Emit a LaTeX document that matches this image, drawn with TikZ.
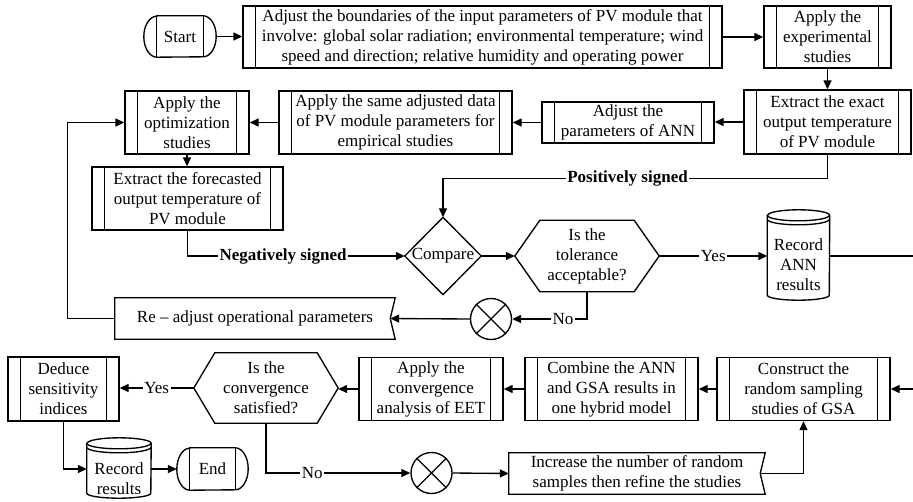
\documentclass[tikz,border=0pt]{standalone}
\usepackage{fontspec}
\setmainfont{Liberation Serif}
\usetikzlibrary{arrows.meta}
\begin{document}
\begin{tikzpicture}[x=1pt,y=1pt,
  lw/.style={line width=1.35pt},
  base/.style={inner sep=0pt, align=center, font=\fontsize{17}{20}\selectfont},
  sz/.style 2 args={minimum width=#1pt, minimum height=#2pt},
  proc/.style={base, draw, lw, path picture={
    \draw[line width=1.35pt] ([xshift=12.5pt]path picture bounding box.north west) -- ([xshift=12.5pt]path picture bounding box.south west)
      ([xshift=-12.5pt]path picture bounding box.north east) -- ([xshift=-12.5pt]path picture bounding box.south east);}},
  arr/.style={lw, -{Triangle[length=9pt,width=8pt]}},
  lbl/.style={font=\fontsize{17}{20}\selectfont, fill=white, inner sep=1.5pt},
  blbl/.style={lbl, font=\fontsize{17}{20}\selectfont\bfseries},
  xcirc/.style={draw, lw, circle, minimum size=41pt, inner sep=0pt}
]
\useasboundingbox (0,0) rectangle (913,-501);

% ---- top row ----
\node[base, sz={72}{41}] (start) at (180,-36.5) {Start};
\draw[lw] ([xshift=13pt]start.north west) -- ([xshift=-13pt]start.north east) arc[start angle=90,end angle=-90,x radius=13pt,y radius=20.5pt] -- ([xshift=13pt]start.south west) arc[start angle=270,end angle=90,x radius=13pt,y radius=20.5pt] -- cycle;
\draw[lw] ([xshift=13pt]start.north west) -- ([xshift=13pt]start.south west) ([xshift=-13pt]start.north east) -- ([xshift=-13pt]start.south east);

\node[proc, sz={479}{62}] (b1) at (482.5,-37) {Adjust the boundaries of the input parameters of PV module that\\involve: global solar radiation; environmental temperature; wind\\speed and direction; relative humidity and operating power};
\node[proc, sz={127}{62}] (b2) at (827.5,-37) {Apply the\\experimental\\studies};
\node[proc, sz={167}{64}] (b3) at (827.5,-122) {Extract the exact\\output temperature\\of PV module};
\node[proc, sz={172}{41}] (b4) at (628,-122.5) {Adjust the\\parameters of ANN};
\node[proc, sz={233}{63}] (b5) at (395.5,-122.5) {Apply the same adjusted data\\of PV module parameters for\\empirical studies};
\node[proc, sz={124}{63}] (b6) at (187,-122.5) {Apply the\\optimization\\studies};
\node[proc, sz={191}{63}] (b7) at (187.5,-198.5) {Extract the forecasted\\output temperature of\\PV module};

% ---- middle ----
\node[base, sz={76}{77}] (cmp) at (443,-256) {Compare};
\draw[lw] (cmp.west)--(cmp.north)--(cmp.east)--(cmp.south)--cycle;

\node[base, sz={144}{71}] (h1) at (587,-256) {Is the\\tolerance\\acceptable?};
\draw[lw] (h1.west) -- ([xshift=25pt]h1.north west) -- ([xshift=-25pt]h1.north east) -- (h1.east) -- ([xshift=-25pt]h1.south east) -- ([xshift=25pt]h1.south west) -- cycle;

\node[base, sz={62}{70}] (c1) at (798.5,-265) {Record\\ANN\\results};
\draw[lw] ([yshift=14.5pt]c1.north west) -- ([yshift=5pt]c1.south west) arc[start angle=180,end angle=360,x radius=31pt,y radius=5pt] -- ([yshift=14.5pt]c1.north east) arc[start angle=0,end angle=180,x radius=31pt,y radius=5.5pt] -- cycle;
\draw[lw] ([yshift=14.5pt]c1.north west) arc[start angle=180,end angle=360,x radius=31pt,y radius=5.5pt];
\draw[lw] ([yshift=10.5pt]c1.north west) arc[start angle=180,end angle=360,x radius=31pt,y radius=5.5pt];

\node[xcirc] (x1) at (491,-319) {};
\draw[lw] (x1.north west)--(x1.south east) (x1.north east)--(x1.south west);

\node[base, sz={280}{41}] (ra) at (255,-318.5) {Re – adjust operational parameters};
\draw[lw] (ra.north west) -- (ra.north east) -- ([xshift=-5pt]ra.east) -- (ra.south east) -- (ra.south west) -- cycle;

% ---- bottom row ----
\node[proc, sz={111}{64}] (dd) at (63.5,-389) {Deduce\\sensitivity\\indices};
\node[base, sz={144}{70}] (h2) at (266,-388) {Is the\\convergence\\satisfied?};
\draw[lw] (h2.west) -- ([xshift=21pt]h2.north west) -- ([xshift=-21pt]h2.north east) -- (h2.east) -- ([xshift=-21pt]h2.south east) -- ([xshift=21pt]h2.south west) -- cycle;
\node[proc, sz={144}{63}] (ac) at (431,-389) {Apply the\\convergence\\analysis of EET};
\node[proc, sz={173}{63}] (cb) at (611.5,-389) {Combine the ANN\\and GSA results in\\one hybrid model};
\node[proc, sz={173}{63}] (cs) at (803.5,-389) {Construct the\\random sampling\\studies of GSA};

\node[base, sz={64}{38}] (c2) at (119,-479) {Record\\results};
\draw[lw] ([yshift=16.5pt]c2.north west) -- ([yshift=5pt]c2.south west) arc[start angle=180,end angle=360,x radius=32pt,y radius=5pt] -- ([yshift=16.5pt]c2.north east) arc[start angle=0,end angle=180,x radius=32pt,y radius=5.5pt] -- cycle;
\draw[lw] ([yshift=16.5pt]c2.north west) arc[start angle=180,end angle=360,x radius=32pt,y radius=5.5pt];
\draw[lw] ([yshift=12.5pt]c2.north west) arc[start angle=180,end angle=360,x radius=32pt,y radius=5.5pt];

\node[base, sz={71}{42}] (en) at (212.5,-469) {End};
\draw[lw] ([xshift=13pt]en.north west) -- ([xshift=-13pt]en.north east) arc[start angle=90,end angle=-90,x radius=13pt,y radius=21pt] -- ([xshift=13pt]en.south west) arc[start angle=270,end angle=90,x radius=13pt,y radius=21pt] -- cycle;
\draw[lw] ([xshift=13pt]en.north west) -- ([xshift=13pt]en.south west) ([xshift=-13pt]en.north east) -- ([xshift=-13pt]en.south east);

\node[xcirc] (x2) at (431.5,-473) {};
\draw[lw] (x2.north west)--(x2.south east) (x2.north east)--(x2.south west);

\node[base, sz={256}{41}] (inc) at (637,-473.5) {Increase the number of random\\samples then refine the studies};
\draw[lw] (inc.north west) -- (inc.north east) -- ([xshift=-5pt]inc.east) -- (inc.south east) -- (inc.south west) -- cycle;

% ---- connectors ----
\draw[arr] (start.east) -- (start.east -| b1.west);
\draw[arr] (b1.east) -- (b2.west);
\draw[arr] (b2.south) -- (b3.north);
\draw[arr] (b3.west) -- (b3.west -| b4.east);
\draw[arr] (b4.west) -- (b5.east);
\draw[arr] (b5.west) -- (b6.east);
\draw[arr] (b6.south) -- (b6.south |- b7.north);
\draw[arr] (b7.south) |- node[blbl,pos=0.72]{Negatively signed} (cmp.west);
\draw[arr] (b3.south) -- ++(0,-24) -| node[blbl,pos=0.26]{Positively signed} (cmp.north);
\draw[arr] (cmp.east) -- (h1.west);
\draw[arr] (h1.east) -- node[lbl]{Yes} (h1.east -| c1.west);
\coordinate (rE1) at (913,-256);
\draw[lw] (c1.east |- h1.east) -- (rE1);
\draw[arr] (h1.south) |- node[lbl,pos=0.66]{No} (x1.east);
\draw[arr] (x1.west) -- ([xshift=-5pt]ra.east);
\draw[arr] (ra.west) -- ++(-47,0) |- (b6.west);
\draw[arr] (h2.west) -- node[lbl]{Yes} (h2.west -| dd.east);
\draw[arr] (ac.west) -- (ac.west -| h2.east);
\draw[arr] (cb.west) -- (ac.east);
\draw[arr] (cs.west) -- (cb.east);
\coordinate (rE2) at (913,-389);
\draw[arr] (rE2) -- (cs.east);
\draw[arr] (dd.south) |- ([yshift=10pt]c2.west);
\draw[arr] ([yshift=10pt]c2.east) -- ([yshift=10pt]c2.east -| en.west);
\draw[arr] (h2.south) |- node[lbl,pos=0.66]{No} (x2.west);
\draw[arr] (x2.east) -- (inc.west);
\draw[arr] ([xshift=-5pt]inc.east) -| (cs.south);
\end{tikzpicture}
\end{document}
